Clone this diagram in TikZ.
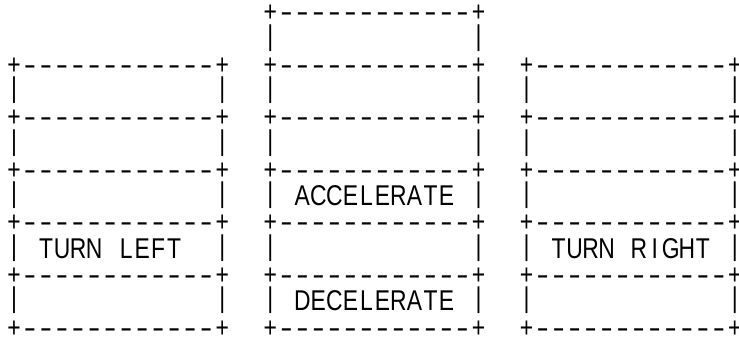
\documentclass[tikz,border=0pt]{standalone}
\usepackage{fontspec}
\usepackage{graphicx}
\newfontfamily\asciifont[FakeStretch=0.8]{Liberation Sans}
\ExplSyntaxOn
\NewDocumentCommand \asciiline { m }
  {
    \str_map_inline:nn {#1}
      {
        \str_case:nnF {##1}
          {
            {|} { \makebox[16.02pt][c]{\raisebox{0.1em}{|}} }
            {-} { \makebox[16.02pt][c]{\scalebox{1.6}[1]{-}} }
          }
          { \makebox[16.02pt][c]{##1} }
      }
  }
\ExplSyntaxOff
\tikzset{asc/.style={inner sep=0pt, outer sep=0pt, anchor=base west,
  font=\asciifont\fontsize{28.6}{30}\selectfont}}
\newcommand\seg[4]{\node[asc] (#1) at ({6+16.02*#2},{-(11.7+26.25*#3)-10.3}) {\asciiline{#4}};}
\begin{document}
\begin{tikzpicture}[x=1pt,y=1pt]
\useasboundingbox (0,0) rectangle (739,-339);
% top box of the middle column
\seg{T0}{16}{0}{+------------+}
\seg{T1a}{16}{1}{|}
\seg{T1b}{29}{1}{|}
% border rows
\foreach \r in {2,4,...,12} {
  \seg{L\r}{0}{\r}{+------------+}
  \seg{M\r}{16}{\r}{+------------+}
  \seg{R\r}{32}{\r}{+------------+}
}
% empty rows
\foreach \r in {3,5} {
  \seg{La\r}{0}{\r}{|}  \seg{Lb\r}{13}{\r}{|}
  \seg{Ma\r}{16}{\r}{|} \seg{Mb\r}{29}{\r}{|}
  \seg{Ra\r}{32}{\r}{|} \seg{Rb\r}{45}{\r}{|}
}
% row 7
\seg{La7}{0}{7}{|} \seg{Lb7}{13}{7}{|}
\seg{acc}{16}{7}{| ACCELERATE |}
\seg{Ra7}{32}{7}{|} \seg{Rb7}{45}{7}{|}
% row 9
\seg{left}{0}{9}{| TURN LEFT} \seg{Lb9}{13}{9}{|}
\seg{Ma9}{16}{9}{|} \seg{Mb9}{29}{9}{|}
\seg{right}{32}{9}{| TURN RIGHT |}
% row 11
\seg{La11}{0}{11}{|} \seg{Lb11}{13}{11}{|}
\seg{dec}{16}{11}{| DECELERATE |}
\seg{Ra11}{32}{11}{|} \seg{Rb11}{45}{11}{|}
\end{tikzpicture}
\end{document}
